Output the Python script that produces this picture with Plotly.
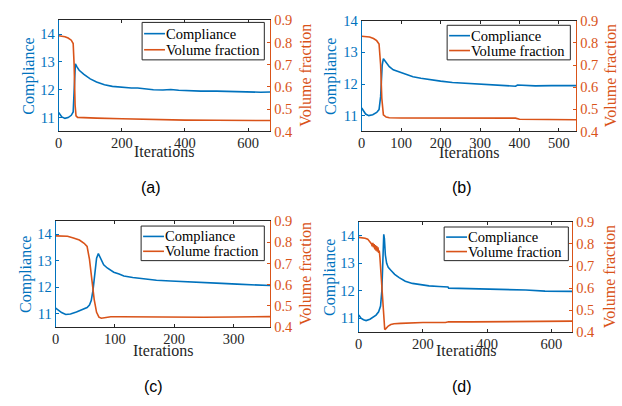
import plotly.graph_objects as go

# ---------------- data ----------------
# (a)
it_a_c = [0, 5, 10, 20, 30, 40, 46, 50, 53, 58, 65, 80, 100, 120, 145, 170, 200, 230, 250, 280, 300, 330, 355, 380, 405, 450, 500, 540, 570, 600, 640, 670]
comp_a = [11.18, 11.08, 11.02, 10.97, 11.0, 11.08, 11.2, 12.2, 12.93, 12.82, 12.7, 12.55, 12.39, 12.28, 12.18, 12.12, 12.08, 12.06, 12.06, 12.02, 12.0, 11.99, 12.01, 11.98, 11.96, 11.95, 11.95, 11.94, 11.92, 11.91, 11.91, 11.92]
it_a_v = [0, 10, 20, 30, 40, 46, 49, 52, 55, 60, 80, 120, 200, 250, 300, 350, 400, 500, 600, 670]
vol_a = [0.83, 0.829, 0.826, 0.82, 0.81, 0.795, 0.70, 0.52, 0.47, 0.463, 0.461, 0.46, 0.457, 0.455, 0.455, 0.452, 0.451, 0.45, 0.449, 0.449]

# (b)
it_b_c = [0, 5, 10, 18, 28, 38, 44, 48, 52, 55, 62, 70, 80, 95, 110, 130, 150, 170, 200, 230, 260, 280, 285, 300, 330, 360, 390, 395, 410, 440, 480, 520, 544]
comp_b = [11.24, 11.12, 11.05, 11.0, 11.03, 11.1, 11.19, 11.6, 12.6, 12.8, 12.68, 12.55, 12.45, 12.38, 12.3, 12.23, 12.18, 12.14, 12.09, 12.05, 12.03, 12.02, 12.0, 12.0, 11.97, 11.95, 11.93, 11.97, 11.96, 11.94, 11.95, 11.94, 11.95]
it_b_v = [0, 10, 20, 30, 38, 44, 48, 51, 55, 62, 70, 100, 200, 300, 390, 400, 450, 500, 544]
vol_b = [0.83, 0.83, 0.827, 0.82, 0.81, 0.795, 0.70, 0.55, 0.475, 0.465, 0.462, 0.461, 0.46, 0.46, 0.46, 0.455, 0.455, 0.455, 0.453]

# (c)
it_c_c = [0, 5, 10, 17, 25, 35, 45, 53, 57, 60, 63, 66, 69, 72, 76, 81, 87, 92, 98, 107, 115, 130, 149, 170, 194, 220, 250, 280, 306, 335, 362]
comp_c = [11.22, 11.12, 11.05, 10.98, 11.0, 11.07, 11.15, 11.24, 11.33, 11.5, 11.9, 12.5, 13.1, 13.27, 13.1, 12.85, 12.73, 12.67, 12.57, 12.5, 12.43, 12.37, 12.31, 12.27, 12.24, 12.22, 12.19, 12.15, 12.12, 12.1, 12.07]
it_c_v = [0, 10, 20, 30, 40, 48, 53, 57, 61, 65, 69, 73, 77, 81, 87, 93, 110, 150, 200, 250, 300, 340, 362]
vol_c = [0.83, 0.83, 0.828, 0.82, 0.81, 0.795, 0.78, 0.72, 0.62, 0.53, 0.47, 0.447, 0.442, 0.443, 0.447, 0.449, 0.449, 0.448, 0.447, 0.447, 0.448, 0.449, 0.45]

# (d)
it_d_c = [0, 8, 15, 23, 35, 45, 54, 62, 68, 72, 75, 78, 80, 83, 87, 92, 100, 112, 126, 145, 167, 190, 219, 250, 278, 280, 320, 373, 420, 476, 520, 580, 620, 665]
comp_d = [11.12, 11.0, 10.95, 10.92, 10.97, 11.04, 11.12, 11.24, 11.45, 12.0, 13.2, 14.05, 13.9, 13.3, 13.0, 12.85, 12.75, 12.6, 12.48, 12.35, 12.27, 12.22, 12.18, 12.16, 12.14, 12.1, 12.09, 12.08, 12.07, 12.04, 12.03, 11.99, 11.99, 11.98]
it_d_v = [0, 10, 20, 28, 36, 40, 42, 44, 46, 48, 50, 52, 54, 56, 58, 60, 62, 64, 66, 69, 72, 75, 78, 81, 84, 88, 92, 100, 110, 130, 150, 200, 270, 280, 350, 476, 580, 665]
vol_d = [0.83, 0.829, 0.826, 0.822, 0.81, 0.80, 0.79, 0.805, 0.785, 0.80, 0.775, 0.795, 0.77, 0.79, 0.765, 0.785, 0.76, 0.77, 0.74, 0.67, 0.58, 0.50, 0.44, 0.412, 0.415, 0.422, 0.428, 0.435, 0.438, 0.44, 0.442, 0.444, 0.444, 0.447, 0.447, 0.448, 0.45, 0.45]

panel_labels = ["(a)", "(b)", "(c)", "(d)"]
series_names = ["Compliance", "Volume fraction"]
x_title = "Iterations"
x_ranges = [[0, 670], [0, 544], [0, 362], [0, 665]]
x_dticks = [200, 100, 100, 200]
left_ranges = [[10.5, 14.5], [10.5, 14.0], [10.5, 14.5], [10.5, 14.5]]
right_range = [0.4, 0.9]

panels = [
    (it_a_c, comp_a, it_a_v, vol_a),
    (it_b_c, comp_b, it_b_v, vol_b),
    (it_c_c, comp_c, it_c_v, vol_c),
    (it_d_c, comp_d, it_d_v, vol_d),
]

# ---------------- layout geometry (pixels) ----------------
W, H = 622, 406
boxes = [  # x0, x1, ytop, ybottom
    (55, 268, 12.7, 128.5),
    (360, 576, 13.3, 128.5),
    (52, 268, 221.7, 332.3),
    (357, 572, 222.7, 337.5),
]
legend_boxes = [  # x0, x1, ytop, ybottom
    (139, 262, 15, 54),
    (446, 570, 18, 54),
    (138, 262, 227, 263),
    (443, 568, 228, 263),
]
label_pos = [(148, 187), (461, 187), (150, 394), (461, 394)]
left_title_x = [25, 329, 22, 328]
right_title_x = [304, 610, 303, 609]
x_title_y = [149.5, 150, 357, 356.5]

BLUE = "#0072BD"
ORANGE = "#D95319"
DARK = "#262626"
SERIF = "Liberation Serif"
SANS = "Liberation Sans"
TICK_SIZE = 14.5

fig = go.Figure()
layout = dict(
    width=W, height=H,
    margin=dict(l=0, r=0, t=0, b=0),
    paper_bgcolor="white", plot_bgcolor="white",
    font=dict(family=SERIF, size=15, color=DARK),
    showlegend=False,
    annotations=[],
    shapes=[],
)

def px(x):
    return x / W

def py(y):
    return 1 - y / H

def note(text, x, y, color, size=16, family=SERIF, angle=0, xanchor="center"):
    layout["annotations"].append(dict(
        text=text, x=px(x), y=py(y), xref="paper", yref="paper",
        showarrow=False, xanchor=xanchor, yanchor="middle", textangle=angle,
        font=dict(family=family, size=size, color=color),
    ))

for i, (ic, c, iv, v) in enumerate(panels):
    k = i + 1
    xname = "x" if k == 1 else f"x{k}"
    yl = 2 * i + 1
    yr = 2 * i + 2
    ylname = "y" if yl == 1 else f"y{yl}"
    yrname = f"y{yr}"

    fig.add_trace(go.Scatter(x=ic, y=c, mode="lines", name=series_names[0],
                             line=dict(color=BLUE, width=1.6),
                             xaxis=xname, yaxis=ylname))
    fig.add_trace(go.Scatter(x=iv, y=v, mode="lines", name=series_names[1],
                             line=dict(color=ORANGE, width=1.6),
                             xaxis=xname, yaxis=yrname))

    x0, x1, yt, yb = boxes[i]
    xd = [px(x0), px(x1)]
    yd = [py(yb), py(yt)]

    xkey = "xaxis" if k == 1 else f"xaxis{k}"
    ylkey = "yaxis" if yl == 1 else f"yaxis{yl}"
    yrkey = f"yaxis{yr}"

    layout[xkey] = dict(
        domain=xd, anchor=ylname, range=x_ranges[i], dtick=x_dticks[i], tick0=0,
        showline=True, linecolor=DARK, linewidth=1, mirror="ticks",
        ticks="inside", ticklen=3, tickcolor=DARK,
        showgrid=False, zeroline=False, ticklabelstandoff=-2,
        tickfont=dict(family=SERIF, size=TICK_SIZE, color=DARK),
    )
    layout[ylkey] = dict(
        domain=yd, anchor=xname, range=left_ranges[i], dtick=1, tick0=11,
        showline=True, linecolor=BLUE, linewidth=1,
        ticks="inside", ticklen=3, tickcolor=BLUE,
        showgrid=False, zeroline=False,
        tickfont=dict(family=SERIF, size=TICK_SIZE, color=BLUE),
    )
    layout[yrkey] = dict(
        domain=yd, anchor=xname, overlaying=ylname, side="right",
        range=right_range, dtick=0.1, tick0=0.4, tickformat=".1f",
        showline=True, linecolor=ORANGE, linewidth=1,
        ticks="inside", ticklen=3, tickcolor=ORANGE,
        showgrid=False, zeroline=False,
        tickfont=dict(family=SERIF, size=TICK_SIZE, color=ORANGE),
    )

    # axis titles
    ymid = (yt + yb) / 2
    note(series_names[0], left_title_x[i], ymid, BLUE, angle=-90)
    note(series_names[1], right_title_x[i], ymid, ORANGE, angle=-90)
    note(x_title, (x0 + x1) / 2, x_title_y[i], DARK)

    # hand-drawn legend box (MATLAB style)
    lx0, lx1, lyt, lyb = legend_boxes[i]
    layout["shapes"].append(dict(type="rect", xref="paper", yref="paper",
                                 x0=px(lx0), x1=px(lx1), y0=py(lyb), y1=py(lyt),
                                 line=dict(color=DARK, width=1), fillcolor="white", layer="above"))
    rows = [(lyt + (lyb - lyt) * 0.3, BLUE, series_names[0]),
            (lyt + (lyb - lyt) * 0.73, ORANGE, series_names[1])]
    for ry, col, txt in rows:
        layout["shapes"].append(dict(type="line", xref="paper", yref="paper",
                                     x0=px(lx0 + 2), x1=px(lx0 + 23), y0=py(ry), y1=py(ry),
                                     line=dict(color=col, width=1.6), layer="above"))
        note(txt, lx0 + 22, ry, "black", size=14.5, xanchor="left")

    lpx, lpy = label_pos[i]
    note(panel_labels[i], lpx, lpy, "black", size=16, family=SANS)

fig.update_layout(**layout)
fig.write_html("out.html")
